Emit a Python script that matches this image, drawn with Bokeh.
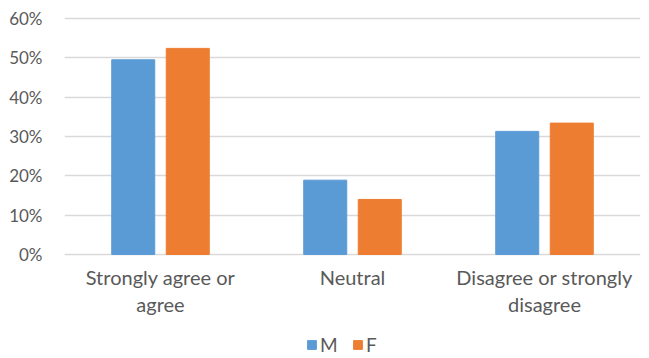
from bokeh.plotting import figure
from bokeh.models import ColumnDataSource, FactorRange, NumeralTickFormatter, Legend, LegendItem, FixedTicker, Range1d
from bokeh.core.properties import value
from bokeh.transform import dodge
from bokeh.embed import file_html
from bokeh.resources import INLINE

categories = ["Strongly agree or\nagree", "Neutral", "Disagree or strongly\ndisagree"]
m_values = [0.495, 0.189, 0.313]
f_values = [0.524, 0.140, 0.334]
y_ticks = [0, 0.1, 0.2, 0.3, 0.4, 0.5, 0.6]

src = ColumnDataSource(dict(cat=categories, m=m_values, f=f_values, base=[0] * len(categories)))

FONT = "Lato"
GRAY = "#595959"
GRID = "#d9d9d9"

p = figure(width=649, height=358, x_range=FactorRange(*categories, range_padding=0),
           y_range=Range1d(-0.2644, 0.6203), output_backend="svg", toolbar_location=None,
           x_axis_location=None,
           min_border_left=64, min_border_right=9, min_border_top=10, min_border_bottom=0)
p.outline_line_color = None

rm = p.vbar(x=dodge("cat", -0.142, range=p.x_range), top="m", width=0.224, source=src,
            fill_color="#5B9BD5", line_color="#5B9BD5")
rf = p.vbar(x=dodge("cat", 0.142, range=p.x_range), top="f", width=0.224, source=src,
            fill_color="#ED7D31", line_color="#ED7D31")

# category labels under the baseline
p.text(x="cat", y="base", text="cat", source=src, text_align="center", text_baseline="top",
       y_offset=11, text_font=value(FONT), text_font_size="20px", text_color=GRAY,
       text_line_height=1.1)

p.yaxis.ticker = FixedTicker(ticks=y_ticks)
p.yaxis.formatter = NumeralTickFormatter(format="0%")
p.yaxis.axis_line_color = None
p.yaxis.major_tick_line_color = None
p.yaxis.minor_tick_line_color = None
p.yaxis.major_label_text_font = FONT
p.yaxis.major_label_text_font_size = "17px"
p.yaxis.major_label_text_color = GRAY
p.yaxis.major_label_standoff = 16

p.xgrid.grid_line_color = None
p.ygrid.ticker = FixedTicker(ticks=y_ticks)
p.ygrid.grid_line_color = GRID
p.ygrid.grid_line_width = 1.5

legend = Legend(items=[LegendItem(label="M", renderers=[rm]), LegendItem(label="F", renderers=[rf])],
                orientation="horizontal", location=(242, 2),
                label_text_font=FONT, label_text_font_size="19px", label_text_color=GRAY,
                glyph_width=11, glyph_height=11, spacing=12, label_standoff=3,
                background_fill_alpha=0, border_line_color=None, padding=0, margin=0)
p.add_layout(legend, "center")

open("out.html", "w").write(file_html(p, INLINE))
